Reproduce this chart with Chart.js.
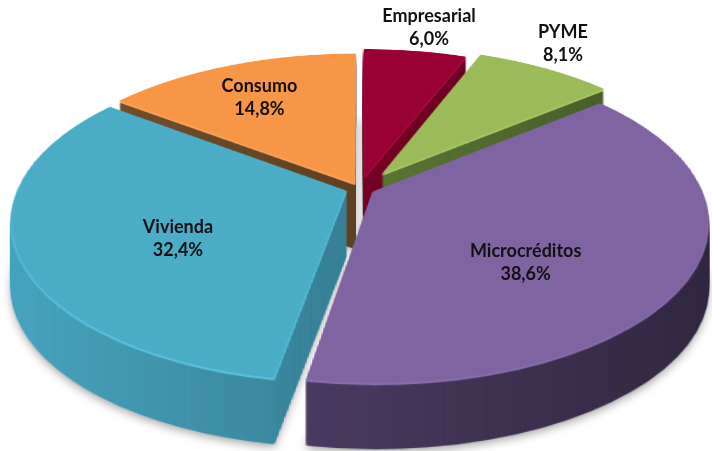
<!DOCTYPE html>
<html>
<head>
<meta charset="utf-8">
<script src="https://cdn.jsdelivr.net/npm/chart.js@4.4.1/dist/chart.umd.min.js"></script>
<style>
  html, body { margin: 0; padding: 0; background: #fff; }
  canvas { display: block; }
</style>
</head>
<body>
<canvas id="grafico" width="712" height="451"></canvas>
<script>
const categorias = ['Empresarial', 'PYME', 'Microcréditos', 'Vivienda', 'Consumo'];
const valores = [6.0, 8.1, 38.6, 32.4, 14.8];

const coresTopo = ['#990033', '#9bbb59', '#8064a2', '#4bacc6', '#f79646'];
const coresLado = ['#9a0033', '#779a45', '#5d4a78', '#4aa6c0', '#7b552e'];
const coresBrilho = ['#a8103f', '#a8c56a', '#8a70ad', '#5cc4e2', '#f9a35c'];
const separacao = [15, 23, 9, 9, 7];      // explosao de cada fatia
const rotuloR = [1.232, 1.333, 0.51, 0.529, 0.7];
const rotuloDx = [4, -28, 0, 0, -4];
const rotuloDy = [0, 4, 28, 16, 0];

const W = 712, H = 451;
const R = 200;                 // raio do circulo plano
const CX = 360, CY = 188;      // centro projetado na tela
const S = 328, E = 155, G = 0.184;  // perspectiva
const PROF = 66;               // espessura da pizza

function novoCanvas() {
  const c = document.createElement('canvas');
  c.width = W; c.height = H;
  return c;
}

// desenha as fatias planas (sem perspectiva) com as cores dadas
function desenhaPlano(arcs, cores) {
  const c = novoCanvas();
  const ctx = c.getContext('2d');
  arcs.forEach((arc, i) => {
    const meio = (arc.startAngle + arc.endAngle) / 2;
    const falso = Object.create(arc);
    falso.options = Object.assign({}, arc.options, {
      backgroundColor: cores[i], borderWidth: 0, offset: 0, spacing: 0, circular: true
    });
    ctx.save();
    ctx.translate(Math.cos(meio) * separacao[i], Math.sin(meio) * separacao[i]);
    arc.draw.call(falso, ctx);
    ctx.restore();
  });
  return c;
}

// deforma linha a linha para dar perspectiva
function deformar(src, ox, oy) {
  const c = novoCanvas();
  const ctx = c.getContext('2d');
  for (let yy = 0; yy < H; yy++) {
    const d0 = yy - CY, d1 = yy + 1 - CY;
    const u0 = d0 / (E + G * d0);
    const u1 = d1 / (E + G * d1);
    const sy = oy + u0 * R, sh = (u1 - u0) * R;
    if (sy < 0 || sy + sh > H) continue;
    const a = S / (R * (1 - G * (u0 + u1) / 2));
    ctx.drawImage(src, 0, sy, W, sh, CX - a * ox, yy, W * a, 1);
  }
  return c;
}

function sombrear(c) {
  const ctx = c.getContext('2d');
  const g = ctx.createLinearGradient(0, 0, W, 0);
  g.addColorStop(0, 'rgba(0,0,0,0)');
  g.addColorStop(1, 'rgba(0,0,0,0.45)');
  ctx.globalCompositeOperation = 'source-atop';
  ctx.fillStyle = g;
  ctx.fillRect(0, 0, W, H);
}

function projeta(X, Y) {
  const u = Y / R;
  const k = 1 / (1 - G * u);
  return [CX + S * (X / R) * k, CY + E * u * k];
}

const pizza3d = {
  id: 'pizza3d',
  beforeDatasetsDraw(chart) {
    const arcs = chart.getDatasetMeta(0).data;
    const ox = arcs[0].x, oy = arcs[0].y;
    const topo = deformar(desenhaPlano(arcs, coresTopo), ox, oy);
    const lado = deformar(desenhaPlano(arcs, coresLado), ox, oy);
    const brilho = deformar(desenhaPlano(arcs, coresBrilho), ox, oy);
    sombrear(lado);
    const ctx = chart.ctx;
    ctx.save();
    ctx.shadowColor = 'rgba(0,0,0,0.35)';
    ctx.shadowBlur = 10;
    ctx.shadowOffsetY = 3;
    ctx.drawImage(lado, 0, PROF);
    ctx.restore();
    for (let t = PROF - 1; t > 2; t--) ctx.drawImage(lado, 0, t);
    ctx.drawImage(brilho, 0, 2);
    ctx.drawImage(brilho, 0, 1);
    ctx.drawImage(topo, 0, 0);
    return false;
  },
  afterDraw(chart) {
    const ctx = chart.ctx;
    const arcs = chart.getDatasetMeta(0).data;
    ctx.save();
    ctx.fillStyle = '#111';
    ctx.font = 'bold 18px Lato';
    ctx.textAlign = 'center';
    ctx.textBaseline = 'middle';
    arcs.forEach((arc, i) => {
      const meio = (arc.startAngle + arc.endAngle) / 2;
      const r = rotuloR[i] * R + separacao[i];
      const [x, y] = projeta(Math.cos(meio) * r, Math.sin(meio) * r);
      const xc = x + rotuloDx[i], yc = y + rotuloDy[i];
      ctx.fillText(categorias[i], xc, yc - 11);
      ctx.fillText(valores[i].toFixed(1).replace('.', ',') + '%', xc, yc + 12);
    });
    ctx.restore();
  }
};

new Chart(document.getElementById('grafico'), {
  type: 'pie',
  data: {
    labels: categorias,
    datasets: [{
      data: valores,
      backgroundColor: coresTopo,
      borderWidth: 0
    }]
  },
  options: {
    responsive: false,
    animation: false,
    radius: R,
    plugins: {
      legend: { display: false },
      tooltip: { enabled: false }
    }
  },
  plugins: [pizza3d]
});
</script>
</body>
</html>
